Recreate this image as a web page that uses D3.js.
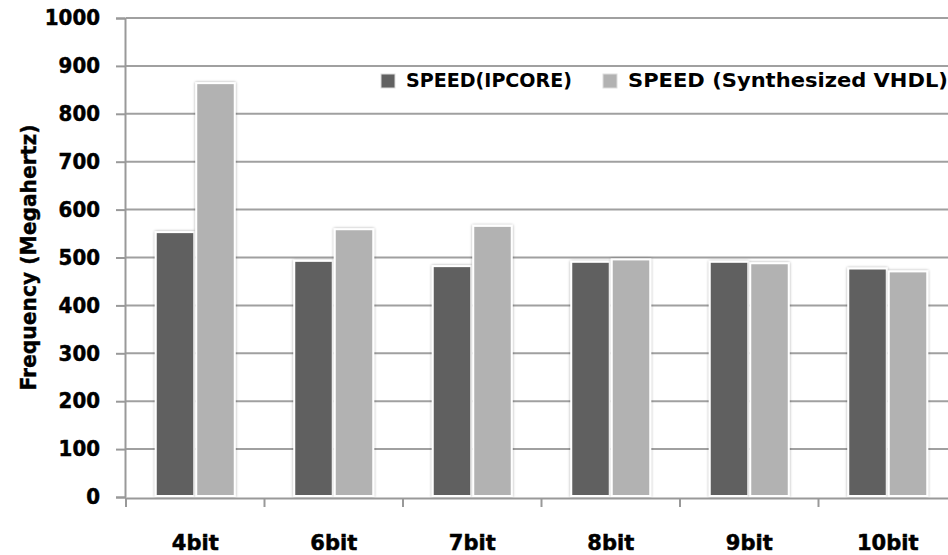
<!DOCTYPE html>
<html>
<head>
<meta charset="utf-8">
<script src="https://cdn.jsdelivr.net/npm/d3@7"></script>
<style>
  html, body { margin: 0; padding: 0; background: #fff; }
  svg { display: block; }
</style>
</head>
<body>
<svg id="chart" width="948" height="555"></svg>
<script>
// Bit widths compared
const categories = ["4bit", "6bit", "7bit", "8bit", "9bit", "10bit"];
// Series names shown in the legend
const seriesNames = ["SPEED(IPCORE)", "SPEED (Synthesized VHDL)"];
// Maximum frequency (MHz) for each implementation
const ipcoreValues = [553, 493, 482, 491, 491, 477];
const vhdlValues = [864, 559, 566, 496, 488, 471];
// Y axis ticks
const yTicks = [0, 100, 200, 300, 400, 500, 600, 700, 800, 900, 1000];

const colors = ["#616161", "#b2b2b2"];
const W = 948, H = 555;
const plot = { left: 126, right: 957, top: 18, bottom: 497 };
const boldFont = "DejaVu Sans, Verdana, sans-serif";

const svg = d3.select("#chart");

const defs = svg.append("defs");
const glow = defs.append("filter").attr("id", "shadow")
  .attr("x", "-20%").attr("y", "-20%").attr("width", "140%").attr("height", "140%");
glow.append("feGaussianBlur").attr("in", "SourceAlpha").attr("stdDeviation", 1.6).attr("result", "b");
glow.append("feComponentTransfer").attr("in", "b").attr("result", "s")
  .append("feFuncA").attr("type", "linear").attr("slope", 0.35);
const merge = glow.append("feMerge");
merge.append("feMergeNode").attr("in", "s");
merge.append("feMergeNode").attr("in", "SourceGraphic");

const y = d3.scaleLinear().domain([0, 1000]).range([plot.bottom, plot.top]);
const x0 = d3.scaleBand().domain(categories).range([plot.left, plot.right]).padding(0);
const x1 = d3.scaleBand().domain([0, 1]).range([0, x0.bandwidth()])
  .paddingInner(0).paddingOuter(0.71);

// Horizontal gridlines
svg.append("g").selectAll("line").data(yTicks.filter(d => d > 0)).join("line")
  .attr("x1", plot.left).attr("x2", W)
  .attr("y1", d => y(d)).attr("y2", d => y(d))
  .attr("stroke", "#a0a0a0").attr("stroke-width", 2);

// Y axis
const yAxis = svg.append("g").attr("transform", `translate(${plot.left - 1},0)`)
  .call(d3.axisLeft(y).tickValues(yTicks).tickFormat(d3.format("d"))
    .tickSize(9).tickPadding(16));
yAxis.select(".domain").attr("stroke", "#999").attr("stroke-width", 2);
yAxis.selectAll(".tick line").attr("stroke", "#999").attr("stroke-width", 2);
yAxis.selectAll(".tick text")
  .attr("font-family", boldFont)
  .attr("font-weight", "bold").attr("font-size", 21).attr("fill", "#000")
  .attr("stroke", "#000").attr("stroke-width", 0.5)
  .attr("textLength", d => String(d).length * 13.8).attr("lengthAdjust", "spacingAndGlyphs");

// Bars
const rows = categories.map((c, i) => ({ cat: c, vals: [ipcoreValues[i], vhdlValues[i]] }));
const groups = svg.append("g").selectAll("g").data(rows).join("g")
  .attr("transform", d => `translate(${x0(d.cat)},0)`);
groups.selectAll("rect").data(d => d.vals.map((v, k) => ({ v, k }))).join("rect")
  .attr("x", d => x1(d.k) + 1)
  .attr("width", x1.bandwidth() - 2)
  .attr("y", d => y(d.v))
  .attr("height", d => y(0) - y(d.v) - 1)
  .attr("fill", d => colors[d.k])
  .attr("stroke", "#fff").attr("stroke-width", 2)
  .attr("filter", "url(#shadow)");

// X axis
const xAxis = svg.append("g").attr("transform", `translate(0,${plot.bottom + 1})`)
  .call(d3.axisBottom(x0).tickSize(0).tickPadding(0));
xAxis.select(".domain").attr("stroke", "#999").attr("stroke-width", 2);
xAxis.selectAll(".tick text")
  .attr("y", 52)
  .attr("dy", 0)
  .attr("font-family", boldFont)
  .attr("font-weight", "bold").attr("font-size", 21).attr("fill", "#000")
  .attr("stroke", "#000").attr("stroke-width", 0.5);
// Category boundary ticks
const bounds = categories.map(c => x0(c));
xAxis.selectAll("line.bound").data(bounds).join("line").attr("class", "bound")
  .attr("x1", d => d).attr("x2", d => d).attr("y1", 0).attr("y2", 9)
  .attr("stroke", "#999").attr("stroke-width", 2);

// Y axis title
svg.append("text")
  .attr("transform", `translate(36,${(plot.top + plot.bottom) / 2}) rotate(-90)`)
  .attr("text-anchor", "middle")
  .attr("font-family", boldFont)
  .attr("font-weight", "bold").attr("font-size", 22).attr("fill", "#000")
  .attr("stroke", "#000").attr("stroke-width", 0.4)
  .attr("textLength", 266).attr("lengthAdjust", "spacingAndGlyphs")
  .text("Frequency (Megahertz)");

// Legend
const legendX = [380, 602];
const legendW = [166, 320];
const lg = svg.append("g").selectAll("g").data(seriesNames).join("g")
  .attr("transform", (d, i) => `translate(${legendX[i]},73)`);
lg.append("rect").attr("x", 1).attr("y", 1).attr("width", 14).attr("height", 14)
  .attr("fill", (d, i) => colors[i]).attr("stroke", "#ddd").attr("stroke-width", 1);
lg.append("text").attr("x", 26).attr("y", 14)
  .attr("font-family", "DejaVu Sans, sans-serif")
  .attr("font-weight", "bold").attr("font-size", 19).attr("fill", "#000")
  .attr("textLength", (d, i) => legendW[i]).attr("lengthAdjust", "spacingAndGlyphs")
  .text(d => d);
</script>
</body>
</html>
